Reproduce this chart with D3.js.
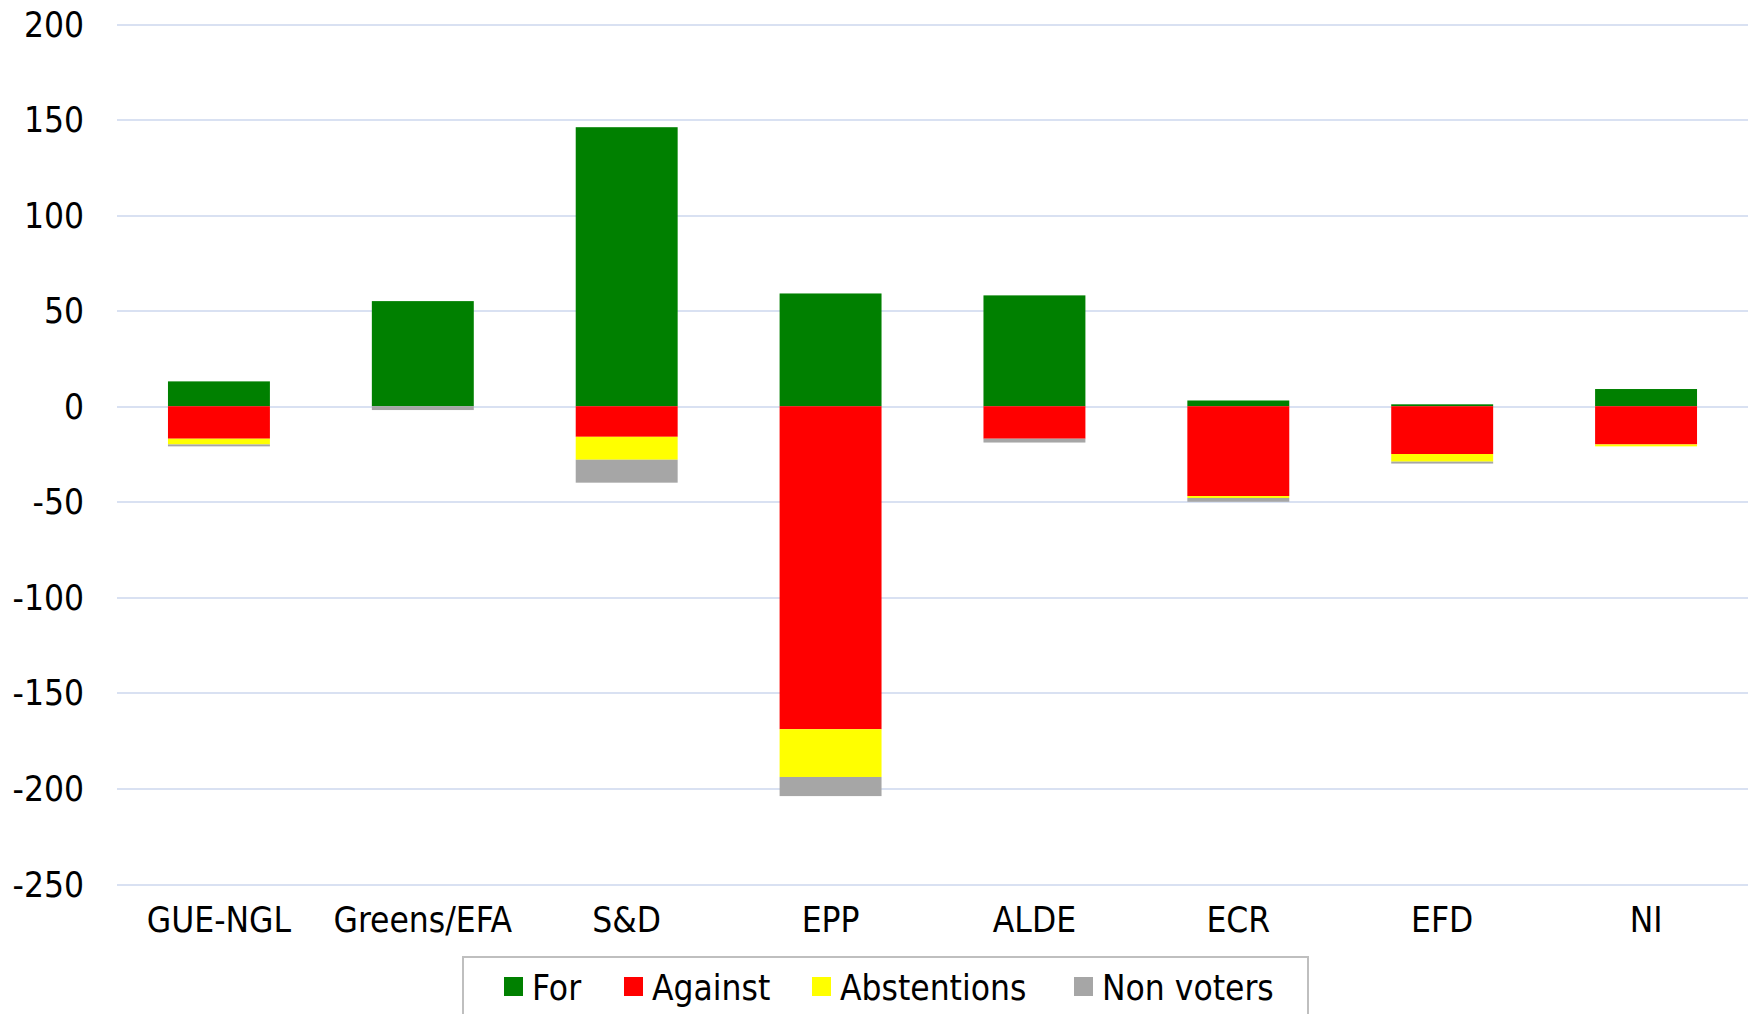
<!DOCTYPE html>
<html lang="en">
<head>
<meta charset="UTF-8">
<title>Vote by group</title>
<script src="https://cdn.jsdelivr.net/npm/d3@7"></script>
<style>
  body { margin: 0; background: #fff; }
  text { font-family: "DejaVu Sans Condensed", "DejaVu Sans", sans-serif; font-stretch: condensed; fill: #000; }
  .grid line { stroke: #d9e1f2; stroke-width: 2px; shape-rendering: crispEdges; }
  .grid path { stroke-width: 0; }
</style>
</head>
<body>
<div id="chart"></div>
<script>
// groups and votes (counts)
var groups = ["GUE-NGL", "Greens/EFA", "S&D", "EPP", "ALDE", "ECR", "EFD", "NI"];
var forVotes     = [13, 55, 146, 59, 58, 3, 1, 9];
var against      = [17, 0, 16, 169, 17, 47, 25, 20];
var abstentions  = [3, 0, 12, 25, 0, 1, 4, 1];
var nonVoters    = [1, 2, 12, 10, 2, 2, 1, 0];
var yTicks = [200, 150, 100, 50, 0, -50, -100, -150, -200, -250];

var series = [
  {key: "For",         name: "For",         color: "#008000", values: forVotes,    sign: 1},
  {key: "Against",     name: "Against",     color: "#ff0000", values: against,     sign: -1},
  {key: "Abstentions", name: "Abstentions", color: "#ffff00", values: abstentions, sign: -1},
  {key: "NonVoters",   name: "Non voters",  color: "#a6a6a6", values: nonVoters,   sign: -1}
];

var width = 1756, height = 1014;
var plotLeft = 117, plotRight = 1748, plotTop = 24, plotBottom = 884;

// table for d3.stack, "against" side goes negative
var rows = groups.map(function(g, i) {
  var r = {group: g};
  series.forEach(function(s) { r[s.key] = s.sign * s.values[i]; });
  return r;
});

var stack = d3.stack()
  .keys(series.map(function(s) { return s.key; }))
  .offset(d3.stackOffsetDiverging);
var stacked = stack(rows);

var x = d3.scaleBand().domain(groups).range([plotLeft, plotRight]).paddingInner(0.5).paddingOuter(0.25);
var y = d3.scaleLinear().domain([-250, 200]).range([plotBottom, plotTop]);

var svg = d3.select("#chart").append("svg")
  .attr("width", width).attr("height", height);

// grid
svg.append("g")
  .attr("class", "grid")
  .attr("transform", "translate(" + plotLeft + ",0)")
  .call(d3.axisLeft(y).tickValues(yTicks).tickSize(-(plotRight - plotLeft)).tickFormat(""));

// y labels
svg.selectAll("text.ylab")
  .data(yTicks)
  .enter().append("text")
  .attr("class", "ylab")
  .attr("x", 84)
  .attr("y", function(d) { return y(d); })
  .attr("dy", "0.36em")
  .attr("text-anchor", "end")
  .attr("font-size", "35px")
  .text(function(d) { return d; });

// bars
svg.selectAll("g.layer")
  .data(stacked)
  .enter().append("g")
  .attr("class", "layer")
  .attr("fill", function(d, i) { return series[i].color; })
  .selectAll("rect")
  .data(function(d) { return d; })
  .enter().append("rect")
  .attr("x", function(d) { return x(d.data.group); })
  .attr("width", x.bandwidth())
  .attr("y", function(d) { return y(Math.max(d[0], d[1])); })
  .attr("height", function(d) { return Math.abs(y(d[0]) - y(d[1])); });

// x labels
svg.selectAll("text.xlab")
  .data(groups)
  .enter().append("text")
  .attr("class", "xlab")
  .attr("x", function(d) { return x(d) + x.bandwidth() / 2; })
  .attr("y", 932)
  .attr("text-anchor", "middle")
  .attr("font-size", "35px")
  .text(function(d) { return d; });

// legend
svg.append("rect")
  .attr("x", 463).attr("y", 957)
  .attr("width", 845).attr("height", 80)
  .attr("fill", "none")
  .attr("stroke", "#bfbfbf")
  .attr("stroke-width", 2);

var legendX = [504, 624, 812, 1074];
var leg = svg.selectAll("g.legend")
  .data(series)
  .enter().append("g")
  .attr("class", "legend")
  .attr("transform", function(d, i) { return "translate(" + legendX[i] + ",977)"; });
leg.append("rect")
  .attr("width", 19).attr("height", 19)
  .attr("fill", function(d) { return d.color; });
leg.append("text")
  .attr("x", 28).attr("y", 23)
  .attr("font-size", "35px")
  .text(function(d) { return d.name; });
</script>
</body>
</html>
